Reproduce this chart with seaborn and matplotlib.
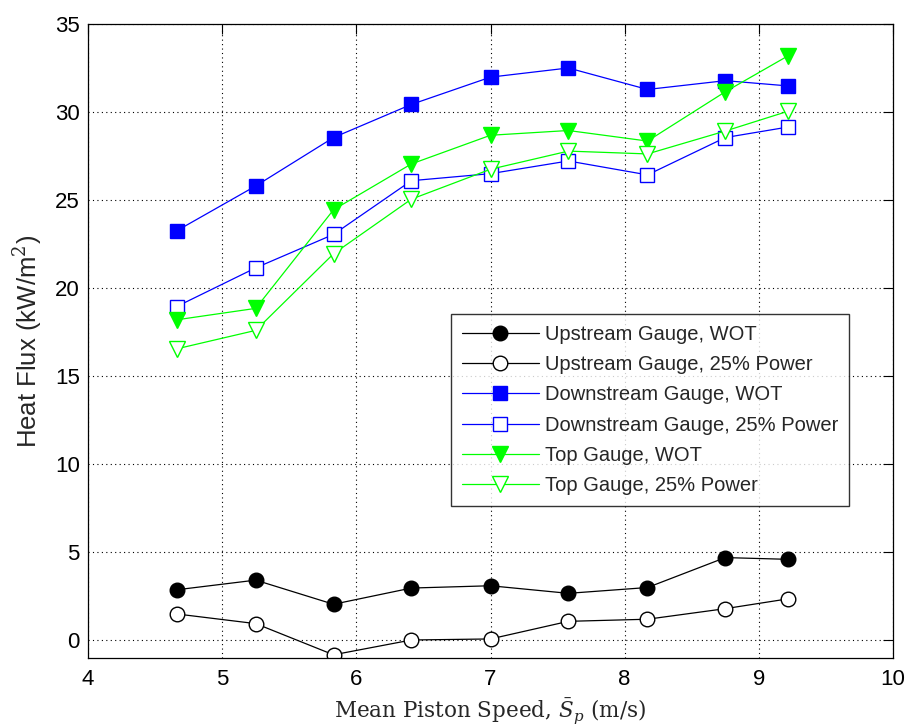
import numpy as np
import pandas as pd
import matplotlib
matplotlib.use("Agg")
import matplotlib.pyplot as plt
import seaborn as sns

# Mean piston speed (m/s)
piston_speed = [4.66, 5.25, 5.83, 6.41, 7.00, 7.58, 8.17, 8.75, 9.22]

# Heat flux (kW/m^2) for each gauge / load case
upstream_wot = [2.87, 3.42, 2.05, 2.97, 3.10, 2.67, 3.00, 4.70, 4.60]
upstream_25 = [1.50, 0.95, -0.82, 0.02, 0.08, 1.08, 1.20, 1.80, 2.36]
downstream_wot = [23.25, 25.80, 28.55, 30.43, 31.98, 32.50, 31.28, 31.78, 31.48]
downstream_25 = [18.95, 21.15, 23.05, 26.10, 26.50, 27.22, 26.43, 28.55, 29.15]
top_wot = [18.20, 18.85, 24.45, 27.05, 28.68, 28.95, 28.35, 31.15, 33.20]
top_25 = [16.55, 17.60, 21.95, 25.05, 26.75, 27.78, 27.62, 28.92, 30.05]

series_labels = [
    "Upstream Gauge, WOT",
    "Upstream Gauge, 25% Power",
    "Downstream Gauge, WOT",
    "Downstream Gauge, 25% Power",
    "Top Gauge, WOT",
    "Top Gauge, 25% Power",
]
series_values = [upstream_wot, upstream_25, downstream_wot,
                 downstream_25, top_wot, top_25]

styles = [
    dict(color="black", marker="o", filled=True, size=10.5),
    dict(color="black", marker="o", filled=False, size=10.5),
    dict(color="#0000ff", marker="s", filled=True, size=10),
    dict(color="#0000ff", marker="s", filled=False, size=10),
    dict(color="#00ff00", marker="v", filled=True, size=11.5),
    dict(color="#00ff00", marker="v", filled=False, size=11.5),
]

frames = []
for name, vals in zip(series_labels, series_values):
    frames.append(pd.DataFrame({"speed": piston_speed, "flux": vals, "series": name}))
df = pd.concat(frames, ignore_index=True)

sns.set_style("white")
plt.rcParams["font.family"] = ["Liberation Sans", "DejaVu Sans"]
plt.rcParams["mathtext.fontset"] = "dejavuserif"

fig = plt.figure(figsize=(9.07, 7.28), dpi=100)
ax = fig.add_axes([0.097, 0.0962, 0.8876, 0.8709])

for name, st in zip(series_labels, styles):
    sub = df[df["series"] == name]
    sns.lineplot(
        data=sub, x="speed", y="flux", ax=ax, label=name,
        color=st["color"], linewidth=0.9,
        marker=st["marker"], markersize=st["size"],
        markerfacecolor=st["color"] if st["filled"] else "white",
        markeredgecolor=st["color"], markeredgewidth=1.0,
        estimator=None, sort=False, errorbar=None,
    )

ax.set_xlim(4, 10)
ax.set_ylim(-1, 35)
ax.set_xticks(np.arange(4, 11, 1))
ax.set_yticks(np.arange(0, 36, 5))
ax.grid(True, color="black", linestyle=(0, (1, 3)), linewidth=0.8)
ax.tick_params(direction="in", length=7, width=0.8, labelsize=16,
               top=True, right=True, colors="black")
ax.tick_params(axis="y", pad=6)
ax.tick_params(axis="x", pad=8)
for sp in ax.spines.values():
    sp.set_color("black")
    sp.set_linewidth(0.9)

ax.set_ylabel(r"Heat Flux (kW/m$^2$)", fontsize=18.5, labelpad=7,
              family=["Liberation Sans"])
ax.set_xlabel(r"Mean Piston Speed, $\bar{S}_{p}$ (m/s)", fontsize=15.5,
              family="DejaVu Serif", labelpad=4)

leg = ax.legend(loc="upper left", bbox_to_anchor=(0.4509, 0.5429), fontsize=14.5,
                frameon=True, fancybox=False, edgecolor="black",
                handlelength=3.8, handletextpad=0.3, labelspacing=0.56,
                borderpad=0.55, borderaxespad=0)
leg.get_frame().set_linewidth(1.0)

fig.savefig("out.png", dpi=100, facecolor="white")
